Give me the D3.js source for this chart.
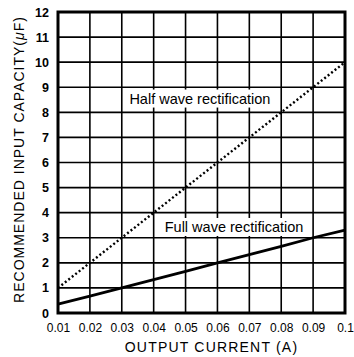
<!DOCTYPE html>
<html><head><meta charset="utf-8">
<script src="https://cdn.jsdelivr.net/npm/d3@7"></script>
<style>
body{margin:0;background:#fff;}
svg{display:block;font-family:Arial,"Liberation Sans",Helvetica,sans-serif;}
</style></head>
<body><svg id="c" width="354" height="357"></svg>
<script>
const currents = [0.01,0.02,0.03,0.04,0.05,0.06,0.07,0.08,0.09,0.1];
const halfWave = [1,2,3,4,5,6,7,8,9,10];
const fullWave = [0.35,0.67,1.0,1.33,1.66,2.0,2.33,2.66,3.0,3.3];
const xTickLabels = ["0.01","0.02","0.03","0.04","0.05","0.06","0.07","0.08","0.09","0.1"];
const yTicks = [0,1,2,3,4,5,6,7,8,9,10,11,12];
const seriesLabels = [
  {text:"Half wave rectification", x:0.0545, y:8.35},
  {text:"Full wave rectification", x:0.0652, y:3.23}
];

const svg = d3.select("#c");
const L=58, R=345, T=12, B=313;
const x = d3.scaleLinear().domain([0.01,0.1]).range([L,R]);
const y = d3.scaleLinear().domain([0,12]).range([B,T]);

// grid
const g = svg.append("g");
g.selectAll("line.v").data(currents).enter().append("line")
  .attr("x1",d=>x(d)).attr("x2",d=>x(d)).attr("y1",T).attr("y2",B)
  .attr("stroke","#000").attr("stroke-width",1.6);
g.selectAll("line.h").data(yTicks).enter().append("line")
  .attr("y1",d=>y(d)).attr("y2",d=>y(d)).attr("x1",L).attr("x2",R)
  .attr("stroke","#000").attr("stroke-width",1.6);

// label boxes
const lab = svg.append("g");
seriesLabels.forEach(s=>{
  const t = lab.append("text").attr("x",x(s.x)).attr("y",y(s.y))
    .attr("text-anchor","middle").attr("font-size",14.5).attr("fill","#000").text(s.text);
  const bb = t.node().getBBox();
  lab.insert("rect","text").attr("x",bb.x-4).attr("y",bb.y-1).attr("width",bb.width+8).attr("height",bb.height+2).attr("fill","#fff");
});

// border
svg.append("rect").attr("x",L).attr("y",T).attr("width",R-L).attr("height",B-T)
  .attr("fill","none").attr("stroke","#000").attr("stroke-width",3);

// lines
const line = d3.line().x((d,i)=>x(currents[i])).y(d=>y(d));
svg.append("path").datum(halfWave).attr("d",line).attr("fill","none")
  .attr("stroke","#000").attr("stroke-width",2.4).attr("stroke-dasharray","2,2.4");
svg.append("path").datum(fullWave).attr("d",line).attr("fill","none")
  .attr("stroke","#000").attr("stroke-width",2.8);

// axes (labels)
const xa = svg.append("g").attr("transform",`translate(0,${B})`)
  .call(d3.axisBottom(x).tickValues(currents).tickFormat((d,i)=>xTickLabels[i]).tickSize(0).tickPadding(10));
xa.select(".domain").remove();
xa.selectAll("text").attr("font-size",12).attr("fill","#000").attr("font-family",null);

const ya = svg.append("g").attr("transform",`translate(${L},0)`)
  .call(d3.axisLeft(y).tickValues(yTicks).tickSize(0).tickPadding(9));
ya.select(".domain").remove();
ya.selectAll("text").attr("font-size",12.5).attr("font-weight","bold").attr("fill","#000").attr("font-family",null);

// titles
svg.append("text").attr("x",(L+R)/2+10).attr("y",352).attr("text-anchor","middle")
  .attr("font-size",14).attr("letter-spacing",1.2).text("OUTPUT CURRENT (A)");
const yt = svg.append("text").attr("transform",`translate(24,${(T+B)/2-3}) rotate(-90)`)
  .attr("text-anchor","middle").attr("font-size",14).attr("letter-spacing",1);
yt.append("tspan").text("RECOMMENDED INPUT CAPACITY(");
yt.append("tspan").attr("font-style","italic").text("μ");
yt.append("tspan").text("F)");
</script></body></html>
